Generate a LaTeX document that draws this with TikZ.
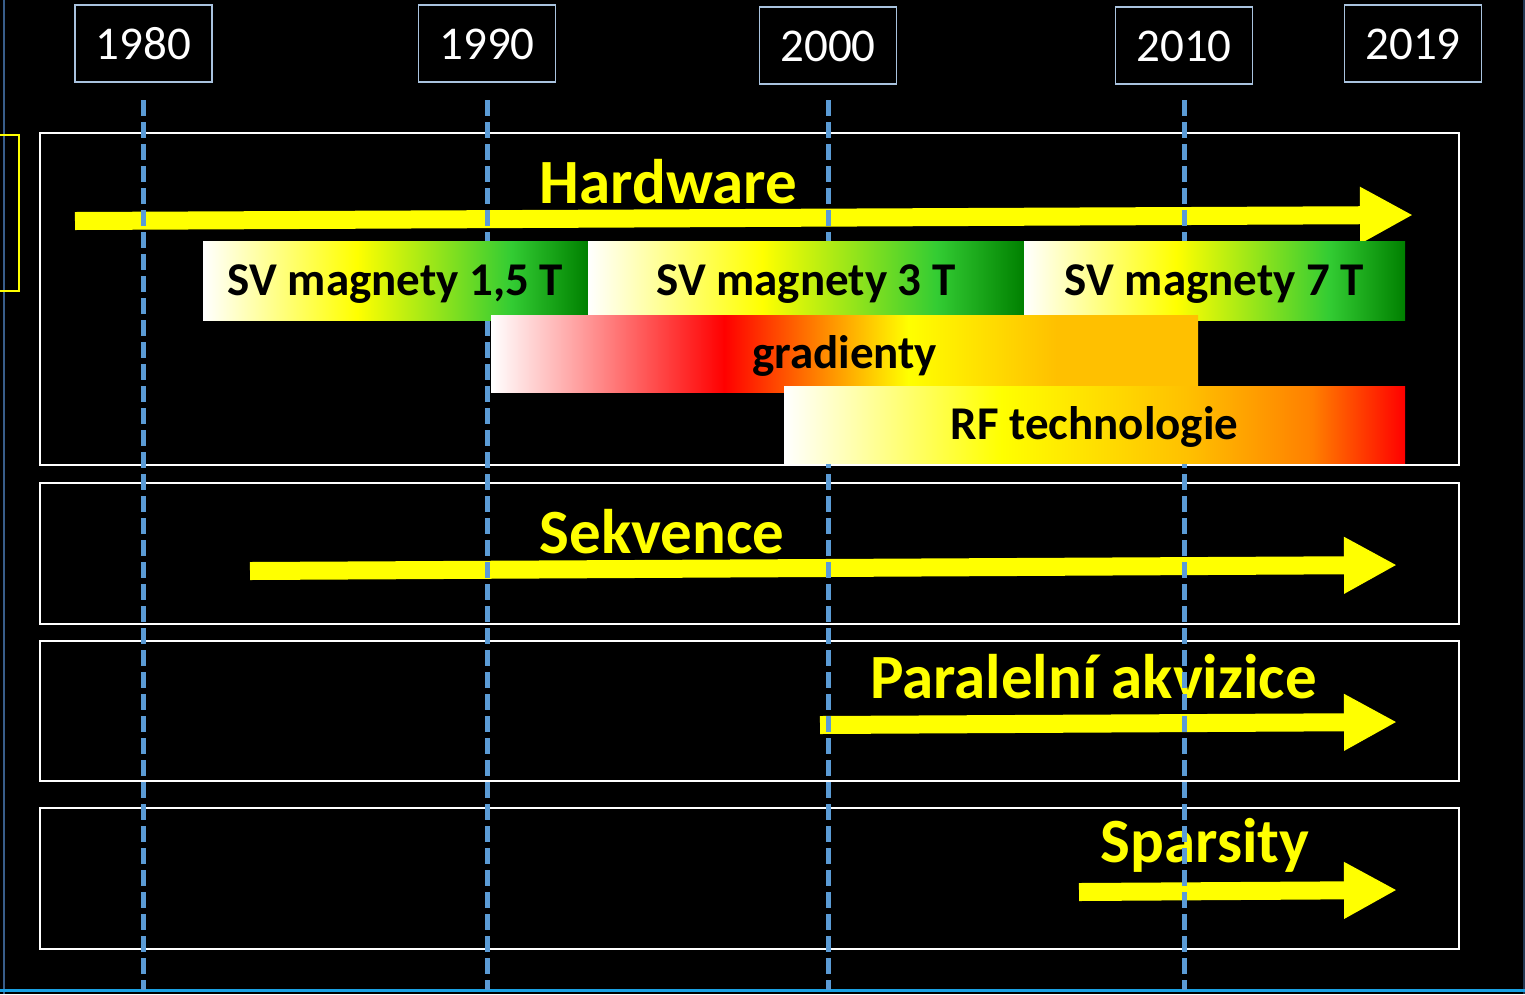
\documentclass[tikz,border=0pt]{standalone}
\usepackage{fontspec}
\setmainfont{Carlito}
\usepackage{xcolor}
\usepackage{tikz}
\usetikzlibrary{arrows.meta}

\definecolor{yearframe}{HTML}{A9C3DF}
\definecolor{linesblue}{HTML}{5B9BD5}
\definecolor{topicyellow}{HTML}{FFFF00}
\definecolor{amber}{HTML}{FFC000}
\definecolor{deepgreen}{HTML}{008000}
\definecolor{leafgreen}{HTML}{33CC33}
\definecolor{slideblue}{HTML}{1BA1E2}
\definecolor{frameblue}{HTML}{385D8A}

\pgfdeclarehorizontalshading{magnetshade}{100bp}{color(0bp)=(white); color(25bp)=(white); color(45bp)=(topicyellow); color(65bp)=(leafgreen); color(75bp)=(deepgreen); color(100bp)=(deepgreen)}
\pgfdeclarehorizontalshading{gradshade}{100bp}{color(0bp)=(white); color(25bp)=(white); color(41.5bp)=(red); color(54.5bp)=(topicyellow); color(65bp)=(amber); color(100bp)=(amber)}
\pgfdeclarehorizontalshading{rfshade}{100bp}{color(0bp)=(white); color(25bp)=(white); color(42.5bp)=(topicyellow); color(57.5bp)=(amber); color(67.5bp)=(orange); color(75bp)=(red); color(100bp)=(red)}

\begin{document}
\begin{tikzpicture}[x=1pt,y=-1pt]
  \tikzstyle{year}=[draw=yearframe, line width=1.5pt, text=white, font=\fontsize{47}{47}\selectfont,
    minimum width=137pt, minimum height=77pt, inner sep=0pt, text height=36pt, text depth=4pt]
  \tikzstyle{topic}=[text=topicyellow, font=\bfseries\fontsize{63}{63}\selectfont, inner sep=0pt, anchor=base]
  \tikzstyle{bar}=[font=\bfseries\fontsize{47}{47}\selectfont, text=black, inner sep=0pt,
    text height=34pt, text depth=4pt]
  \tikzstyle{panel}=[draw=white, line width=2.5pt]
  \tikzstyle{timeline}=[linesblue, line width=5pt, dash pattern=on 16pt off 6pt]
  \tikzstyle{trend}=[draw=topicyellow, line width=18pt, -{Triangle[length=53pt,width=53pt]}]

  \useasboundingbox (0,0) rectangle (1525,994);
  \fill[black] (0,0) rectangle (1525,994);
  \draw[frameblue, line width=2pt] (4,0) -- (4,994);
  \draw[frameblue!60!black, line width=2pt] (1524,0) -- (1524,994);
  \draw[slideblue, line width=3pt] (0,990) -- (1525,990);
  \draw[topicyellow, line width=2pt] (-10,135) rectangle (19,291);

  % years
  \node[year] (y1980) at (143.5,43.5) {1980};
  \node[year] (y1990) at (487,43.5)   {1990};
  \node[year] (y2000) at (828,45.5)   {2000};
  \node[year] (y2010) at (1184,45.5)  {2010};
  \node[year] (y2019) at (1413,43.5)  {2019};

  % panels
  \draw[panel] (40,133) rectangle (1459,465);
  \draw[panel] (40,483) rectangle (1459,624);
  \draw[panel] (40,641) rectangle (1459,781);
  \draw[panel] (40,808) rectangle (1459,949);

  % trends
  \coordinate (hwstart) at (75,221);    \coordinate (hwend) at (1413,215);
  \coordinate (seqstart) at (250,571);  \coordinate (seqend) at (1397,565);
  \coordinate (parstart) at (820,725);  \coordinate (parend) at (1397,722);
  \coordinate (spstart) at (1079,892);  \coordinate (spend) at (1397,890);
  \draw[trend] (hwstart) -- (hwend);
  \draw[trend] (seqstart) -- (seqend);
  \draw[trend] (parstart) -- (parend);
  \draw[trend] (spstart) -- (spend);

  \node[topic] (hw)  at (668.5,203) {Hardware};
  \node[topic] (seq) at (662,553)   {Sekvence};
  \node[topic] (par) at (1093.5,698) {Paralelní akvizice};
  \node[topic] (sp)  at (1205,862)  {Sparsity};

  \draw[timeline] (y1980.south |- 0,100) -- (y1980.south |- 0,990);
  \draw[timeline] (y1990.south |- 0,100) -- (y1990.south |- 0,990);
  \draw[timeline] (y2000.south |- 0,100) -- (y2000.south |- 0,990);
  \draw[timeline] (y2010.south |- 0,100) -- (y2010.south |- 0,990);

  % hardware bars
  \node[bar, shading=magnetshade, minimum width=385pt, minimum height=79pt] (sv15) at (395.5,280.5) {SV magnety 1,5 T};
  \node[bar, shading=magnetshade, minimum width=436pt, minimum height=79pt] (sv3)  at (806,280.5)   {SV magnety 3 T};
  \node[bar, shading=magnetshade, minimum width=381pt, minimum height=79pt] (sv7)  at (1214.5,280.5) {SV magnety 7 T};
  \node[bar, shading=gradshade, minimum width=707pt, minimum height=77pt] (grad) at (844.5,353.5) {gradienty};
  \node[bar, shading=rfshade, minimum width=621pt, minimum height=77pt] (rf) at (1094.5,424.5) {RF technologie};
\end{tikzpicture}
\end{document}
